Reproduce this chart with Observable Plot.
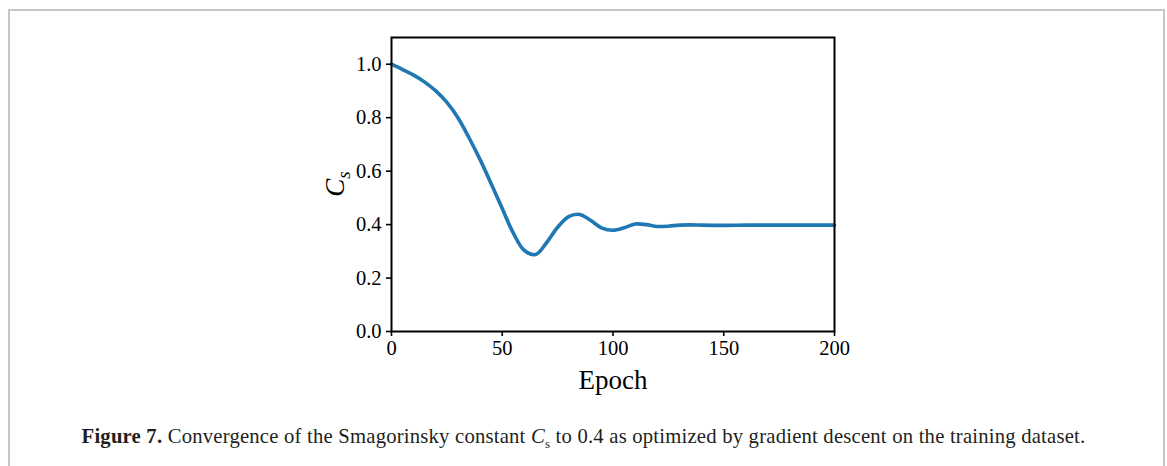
<!DOCTYPE html>
<html>
<head>
<meta charset="utf-8">
<script src="https://cdn.jsdelivr.net/npm/d3@7"></script>
<script src="https://cdn.jsdelivr.net/npm/@observablehq/plot@0.6"></script>
<style>
  html, body { margin: 0; padding: 0; background: #fff; }
  body { width: 1167px; height: 466px; position: relative; overflow: hidden; }
  #box { position: absolute; left: 8px; top: 9px; width: 1153px; height: 500px;
         border: 2px solid #c6c6c6; border-bottom: none; }
  #chart { position: absolute; left: 0; top: 0; }
  #chart g[aria-label="x-axis tick label"], #chart g[aria-label="y-axis tick label"] { font-size: 20.5px !important; }
  #caption { position: absolute; left: 0; width: 1167px; top: 425px; text-align: center;
             font-family: "Liberation Serif", serif; font-size: 20.7px; letter-spacing: 0.2px; color: #231f20; }
  #caption b { font-weight: bold; }
</style>
</head>
<body>
<div id="box"></div>
<div id="chart"></div>
<div id="caption"><b>Figure 7.</b> Convergence of the Smagorinsky constant <i>C</i><sub style="font-size:13px">s</sub> to 0.4 as optimized by gradient descent on the training dataset.</div>
<script>
const epochs = [0,5,10,15,20,25,30,35,40,45,50,55,60,65,70,75,80,85,90,95,100,105,110,115,120,125,130,135,140,150,160,170,180,190,200];
const cs =     [1.0,0.98,0.959,0.933,0.90,0.857,0.80,0.725,0.643,0.553,0.46,0.368,0.303,0.288,0.332,0.39,0.43,0.438,0.415,0.387,0.379,0.388,0.402,0.40,0.393,0.394,0.398,0.399,0.398,0.397,0.398,0.398,0.398,0.398,0.398];
const xTicks = [0,50,100,150,200];
const yTicks = [0.0,0.2,0.4,0.6,0.8,1.0];
const xLabel = "Epoch";

const data = epochs.map((e,i) => ({epoch: e, cs: cs[i]}));

const H = 400;
const plot = Plot.plot({
  width: 1167,
  height: H,
  marginLeft: 391,
  marginRight: 333,
  marginTop: 37,
  marginBottom: H - 331,
  style: {fontFamily: "Liberation Serif, serif", fontSize: "20.5px", color: "#000", background: "transparent"},
  x: {domain: [0, 200]},
  y: {domain: [0, 1.1]},
  marks: [
    Plot.line(data, {x: "epoch", y: "cs", stroke: "#1f77b4", strokeWidth: 3.6, curve: "catmull-rom"}),
    Plot.frame({stroke: "#000", strokeWidth: 2}),
    Plot.axisX({ticks: xTicks, tickSize: 5, tickPadding: 4, tickFormat: d => String(d), label: null, strokeWidth: 1.6}),
    Plot.axisY({ticks: yTicks, tickSize: 5, tickPadding: 5, tickFormat: d => d.toFixed(1), label: null, strokeWidth: 1.6}),
    Plot.text([xLabel], {frameAnchor: "bottom", dy: 49, text: d => d, fontSize: 27, lineAnchor: "middle"})
  ]
});
document.getElementById("chart").appendChild(plot);
d3.select(plot).selectAll('g[aria-label$="tick label"]').attr("font-size", 20.5);

// y-axis label C_s (italic with subscript)
const svg = d3.select(plot);
const t = svg.append("text")
  .attr("transform", "translate(344,184) rotate(-90)")
  .attr("text-anchor", "middle")
  .attr("font-family", "Liberation Serif, serif")
  .attr("font-size", 27)
  .attr("fill", "#000");
t.append("tspan").attr("font-style", "italic").text("C");
t.append("tspan").attr("font-style", "italic").attr("font-size", 19).attr("dy", 6).text("s");
</script>
</body>
</html>
